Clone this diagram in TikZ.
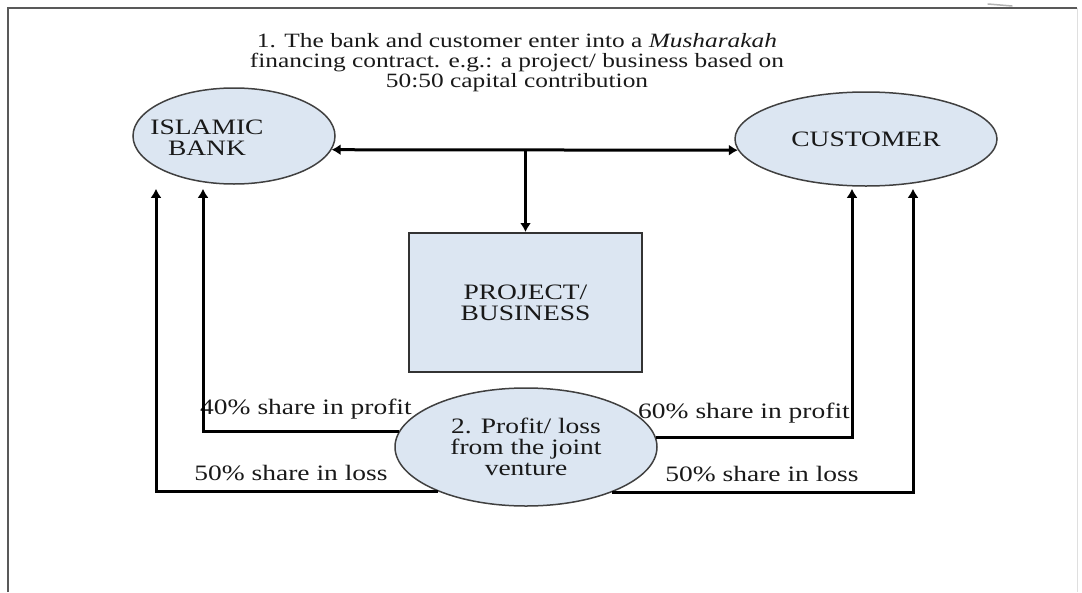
\documentclass[tikz,border=0pt]{standalone}
\usepackage{fontspec}
\setmainfont[FakeStretch=1.25]{Liberation Serif}
\usetikzlibrary{shapes.geometric,arrows.meta}

\definecolor{lightfill}{RGB}{220,230,242}
\definecolor{edgegray}{RGB}{64,64,64}

\tikzset{
  txt/.style={font=\fontsize{22}{21}\selectfont, text=black!90, align=center},
  party/.style={ellipse, draw=edgegray, line width=1.5pt, fill=lightfill, inner sep=0pt, txt},
  box/.style={rectangle, draw=edgegray!80!black, line width=2pt, fill=lightfill, txt},
  flow/.style={line width=3pt, arrows={-Latex[length=9pt,width=11pt]}},
  twoway/.style={line width=3pt, arrows={Latex[length=9pt,width=11pt]-Latex[length=9pt,width=11pt]}},
}

\begin{document}
\begin{tikzpicture}[x=1pt,y=-1pt]
\useasboundingbox (0,0) rectangle (1082,592);

\def \bankx {234}
\def \banky {136}
\def \custx {866}
\def \custy {139}
\def \projx {525.5}
\def \projy {302.5}
\def \ventx {526}
\def \venty {447}

\draw [gray!70!black, line width=2pt] (8,592) -- (8,8) -- (1077,8);
\draw [gray!25, line width=1pt] (1077,8) -- (1077,592);
\draw [gray!60, line width=1.5pt, line cap=round] (988,4) -- (1012,6);

\node (bank) [party, minimum width=202pt, minimum height=96pt] at (\bankx,\banky) {};
\node (banktext) [txt] at (\bankx-27,\banky+2) {ISLAMIC\\BANK};
\node (customer) [party, minimum width=262pt, minimum height=94pt] at (\custx,\custy) {CUSTOMER};
\node (project) [box, minimum width=233pt, minimum height=139pt] at (\projx,\projy) {PROJECT/\\BUSINESS};
\node (venture) [party, minimum width=262pt, minimum height=118pt] at (\ventx,\venty) {2. Profit/ loss\\from the joint\\venture};

\node (contract) [txt, font=\fontsize{20.3}{20}\selectfont] at (517,63) {1. The bank and customer enter into a \textit{Musharakah}\\financing contract. e.g.: a project/ business based on\\50:50 capital contribution};

\node (bankprofit) [txt] at (306,409) {40\% share in profit};
\node (bankloss) [txt] at (291,473) {50\% share in loss};
\node (custprofit) [txt] at (744,413) {60\% share in profit};
\node (custloss) [txt] at (762,474) {50\% share in loss};

\draw [twoway] (bank.-8) -- (customer.185);
\draw [flow] (project.north |- bank.-8) -- (project.north);

\draw [flow] (venture.173) -| ([xshift=-31pt,yshift=-4pt]bank.south);
\draw [flow] (venture.207) -| ([xshift=-78pt,yshift=-4pt]bank.south);
\draw [flow] (venture.4) -| ([xshift=-14pt,yshift=-2pt]customer.south);
\draw [flow] (venture.-28) -| ([xshift=47pt,yshift=-2pt]customer.south);
\end{tikzpicture}
\end{document}
